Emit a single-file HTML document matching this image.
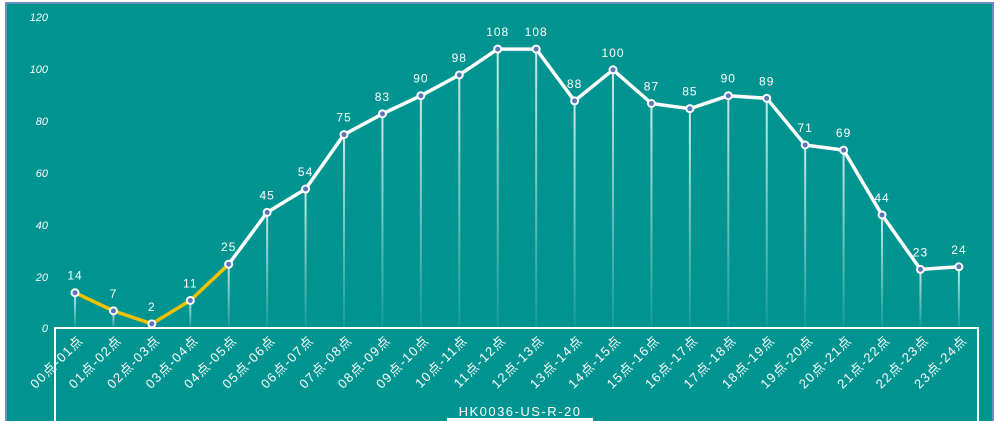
<!DOCTYPE html>
<html><head><meta charset="utf-8"><style>
html,body{margin:0;padding:0;background:#fff}
svg{display:block}
text{font-family:"Liberation Sans","Noto Sans CJK SC",sans-serif;fill:#fff}
</style></head><body>
<svg width="1000" height="421" viewBox="0 0 1000 421" xmlns="http://www.w3.org/2000/svg">
<defs><linearGradient id="g" x1="0" y1="0" x2="0" y2="1"><stop offset="0" stop-color="#fff" stop-opacity="0.8"/><stop offset="1" stop-color="#fff" stop-opacity="0.08"/></linearGradient></defs>
<rect x="0" y="0" width="1000" height="421" fill="#fff"/>
<rect x="6" y="3" width="987" height="420" fill="#009490" stroke="#6f8cc0" stroke-width="2"/>
<polyline points="55,421 55,328 978,328 978,421" fill="none" stroke="#fff" stroke-width="2"/>
<rect x="447" y="418" width="146" height="3" fill="#fff"/>
<text x="520" y="416" font-size="13" text-anchor="middle" letter-spacing="1.5">HK0036-US-R-20</text>
<g font-size="11" font-style="italic" text-anchor="end">
<text x="48" y="332">0</text><text x="48" y="281">20</text><text x="48" y="229">40</text><text x="48" y="177">60</text><text x="48" y="125">80</text><text x="48" y="73">100</text><text x="48" y="21">120</text>
</g>
</svg>
<script>
var d=[14,7,2,11,25,45,54,75,83,90,98,108,108,88,100,87,85,90,89,71,69,44,23,24];
var s=document.querySelector('svg'),ns='http://www.w3.org/2000/svg';
function X(i){return 75+i*38.43}function Y(v){return 329-v*2.592}
function el(t,a,txt){var e=document.createElementNS(ns,t);for(var k in a)e.setAttribute(k,a[k]);if(txt!=null)e.textContent=txt;s.appendChild(e);return e}
d.forEach(function(v,i){el('rect',{x:X(i)-1,y:Y(v),width:2,height:328-Y(v),fill:'url(#g)'});});
var p1=[],p2=[];d.forEach(function(v,i){if(i<=4)p1.push(X(i)+','+Y(v));if(i>=4)p2.push(X(i)+','+Y(v));});
el('polyline',{points:p2.join(' '),fill:'none',stroke:'#fff','stroke-width':3.5,'stroke-linejoin':'round'});
el('polyline',{points:p1.join(' '),fill:'none',stroke:'#f5c200','stroke-width':3.5,'stroke-linejoin':'round'});
d.forEach(function(v,i){el('circle',{cx:X(i),cy:Y(v),r:3.5,fill:'#5a74b8',stroke:'#fff','stroke-width':2});
el('text',{x:X(i),y:Y(v)-13,'font-size':12,'text-anchor':'middle','letter-spacing':1},String(v));
var a=('0'+i).slice(-2),b=('0'+(i+1)).slice(-2);
el('text',{x:X(i)+9,y:341,'font-size':13,'letter-spacing':1.3,'text-anchor':'end',transform:'rotate(-45 '+(X(i)+9)+' 341)'},a+'点-'+b+'点');});
</script>
</body></html>
